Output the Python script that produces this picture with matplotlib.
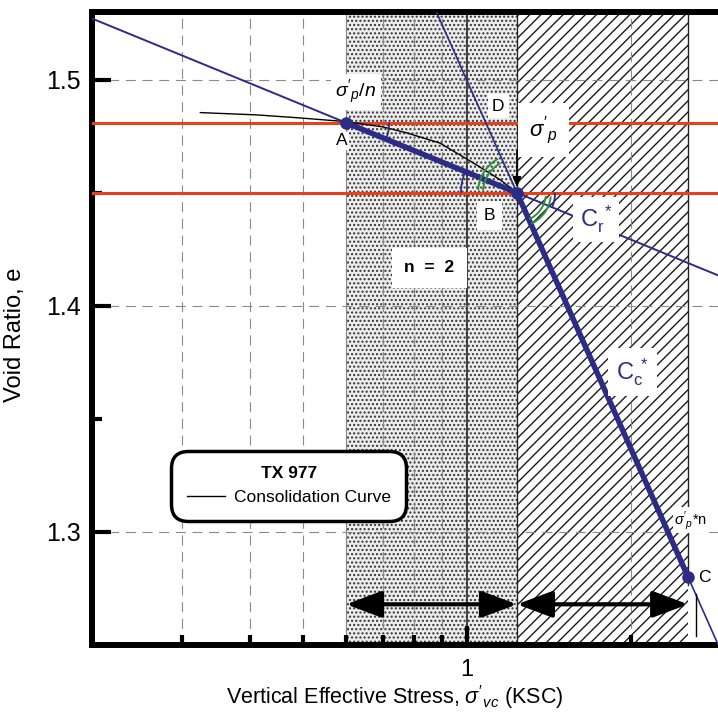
import numpy as np
import matplotlib
matplotlib.use("Agg")
import matplotlib.pyplot as plt
import matplotlib.transforms as mtransforms
from matplotlib.patches import Arc, Rectangle
from matplotlib.lines import Line2D

plt.rcParams["font.family"] = ["Liberation Sans", "DejaVu Sans"]
plt.rcParams["mathtext.fontset"] = "custom"
plt.rcParams["mathtext.rm"] = "Liberation Sans"
plt.rcParams["mathtext.it"] = "Liberation Sans:italic"
plt.rcParams["mathtext.bf"] = "Liberation Sans:bold"
plt.rcParams["hatch.linewidth"] = 1.0

# --- values ---
sig_A = 0.60         # sigma'p / n (KSC)
sig_p = 1.235        # preconsolidation stress sigma'p (KSC)
sig_C = 2.545        # sigma'p * n (KSC)
e_A = 1.481          # void ratio at A
e_B = 1.450          # void ratio at B
e_C = 1.280          # void ratio at C

curve_stress = [0.324, 0.41, 0.49, 0.60, 0.70, 0.776, 0.892, 1.026, 1.15, 1.235,
                1.33, 1.60, 2.00, 2.545]
curve_e = [1.4855, 1.4845, 1.4832, 1.4815, 1.4792, 1.4765, 1.4720, 1.4633,
           1.4558, 1.4500, 1.4326, 1.3892, 1.3367, 1.2800]

y_ticks = [1.3, 1.4, 1.5]
y_minor = [1.35, 1.45]
x_ticks = [1]
x_minor = [0.3, 0.4, 0.5, 0.6, 0.7, 0.8, 0.9, 2]
xlim = (0.205, 3.32)
ylim = (1.25, 1.53)
arrow_e = 1.268

BLUE = "#2c2c86"
RED = "#e8401c"
GREEN = "#2f8f3f"

Cr = (e_A - e_B) / np.log10(sig_p / sig_A)
Cc = (e_B - e_C) / np.log10(sig_C / sig_p)
sig_D = sig_p * 10 ** (-(e_A - e_B) / Cc)

fig = plt.figure(figsize=(7.18, 7.12), dpi=100)
ax = fig.add_axes([92 / 718, 67 / 712, 659 / 718, 633 / 712])
ax.set_xscale("log")
ax.set_xlim(*xlim)
ax.set_ylim(*ylim)

# shaded zones
ax.add_patch(Rectangle((sig_A, ylim[0]), sig_p - sig_A, ylim[1] - ylim[0],
                       facecolor="#ececec", edgecolor="#333333", hatch="....",
                       linewidth=0, zorder=0.5))
ax.add_patch(Rectangle((sig_p, ylim[0]), sig_C - sig_p, ylim[1] - ylim[0],
                       facecolor="white", edgecolor="#1a1a1a", hatch="///",
                       linewidth=0, zorder=0.5))
ax.axvline(sig_A, color="#888888", lw=0.8, zorder=1)
ax.axvline(sig_p, color="#222222", lw=1.0, zorder=1)
ax.axvline(sig_C, ymin=(arrow_e - ylim[0]) / (ylim[1] - ylim[0]) + 0.03,
           color="#222222", lw=1.0, zorder=1)

# grid
for xv in x_minor:
    ax.axvline(xv, color="#8a8a8a", lw=0.8, ls=(0, (9, 6)), zorder=1.2)
ax.axvline(1, color="#333333", lw=1.3, zorder=1.2)
for yv in y_ticks:
    ax.axhline(yv, color="#8a8a8a", lw=0.8, ls=(0, (9, 6)), zorder=1.2)

# red horizontal reference lines
ax.axhline(e_A, color=RED, lw=2.2, zorder=3)
ax.axhline(e_B, color=RED, lw=2.2, zorder=3)

# construction lines
xs = np.array(xlim)
ax.plot(xs, e_B - Cr * np.log10(xs / sig_p), color=BLUE, lw=1.4, zorder=4)
ax.plot(xs, e_B - Cc * np.log10(xs / sig_p), color=BLUE, lw=1.2, zorder=4)

# consolidation curve
ax.plot(curve_stress, curve_e, color="black", lw=1.0, zorder=3.5)

# thick segments A-B and B-C
ax.plot([sig_A, sig_p], [e_A, e_B], color=BLUE, lw=4.0, zorder=4.5,
        solid_capstyle="round")
ax.plot([sig_p, sig_C], [e_B, e_C], color=BLUE, lw=4.0, zorder=4.5,
        solid_capstyle="round")
ax.plot([sig_A, sig_p, sig_C], [e_A, e_B, e_C], "o", color=BLUE, ms=8, zorder=5)


# angle marks
def disp_angle(p0, p1):
    a = ax.transData.transform(p0)
    b = ax.transData.transform(p1)
    return np.degrees(np.arctan2(b[1] - a[1], b[0] - a[0]))


def angle_arc(pt, r_px, a1, a2, color, lw):
    tr = fig.dpi_scale_trans + mtransforms.ScaledTranslation(pt[0], pt[1], ax.transData)
    d = 2 * r_px / fig.dpi
    ax.add_patch(Arc((0, 0), d, d, theta1=a1, theta2=a2, transform=tr,
                     color=color, lw=lw, zorder=5.5))


ang_cr = disp_angle((sig_A, e_A), (sig_p, e_B))
ang_cc = disp_angle((sig_p, e_B), (sig_C, e_C))
angle_arc((sig_A, e_A), 43, ang_cr, 0, BLUE, 1.3)
angle_arc((sig_p, e_B), 56, 180 + ang_cr, 180, BLUE, 1.3)
angle_arc((sig_p, e_B), 38, ang_cr, 0, BLUE, 1.3)
for r in (34, 39):
    angle_arc((sig_p, e_B), r, 180 + ang_cc + 5, 176, GREEN, 1.4)
for r in (29, 34):
    angle_arc((sig_p, e_B), r, ang_cc + 1, -6, GREEN, 1.4)

# labels
ax.annotate(r"$\sigma'_p/n$", (sig_A, e_A), xytext=(7, 22), textcoords="offset points",
            ha="center", va="center", fontsize=14,
            bbox=dict(facecolor="white", edgecolor="none", pad=3), zorder=6)
ax.annotate("A", (sig_A, e_A), xytext=(-3, -13), textcoords="offset points",
            ha="center", va="center", fontsize=12.5,
            bbox=dict(facecolor="white", edgecolor="none", pad=1), zorder=6)
ax.annotate("D", (sig_D, e_A), xytext=(9, 12), textcoords="offset points",
            ha="center", va="center", fontsize=12.5,
            bbox=dict(facecolor="white", edgecolor="none", pad=3), zorder=6)
ax.annotate(r"$\sigma'_p$", (sig_p, e_B), xytext=(19, 45), textcoords="offset points",
            ha="center", va="center", fontsize=16,
            bbox=dict(facecolor="white", edgecolor="none", pad=8), zorder=6)
ax.annotate("", (sig_p, e_B), xytext=(0, 30), textcoords="offset points",
            arrowprops=dict(arrowstyle="-|>,head_length=0.6,head_width=0.25",
                            color="black", lw=1.2, shrinkA=0, shrinkB=4), zorder=6)
ax.annotate("B", (sig_p, e_B), xytext=(-20, -16), textcoords="offset points",
            ha="center", va="center", fontsize=12.5,
            bbox=dict(facecolor="white", edgecolor="none", pad=5), zorder=6)
ax.annotate(r"$\mathregular{C_r^{\ *}}$", (sig_p, e_B), xytext=(57, -19), textcoords="offset points",
            ha="center", va="center", fontsize=17, color=BLUE,
            bbox=dict(facecolor="white", edgecolor="none", pad=5), zorder=6)
ax.annotate(r"n  =  2", (sig_p, e_B), xytext=(-63, -54), textcoords="offset points",
            ha="center", va="center", fontsize=12.5, fontweight="bold",
            bbox=dict(facecolor="white", edgecolor="none", pad=9), zorder=6)
ax.annotate(r"$\mathregular{C_c^{\ *}}$", (sig_p, e_B), xytext=(83, -129), textcoords="offset points",
            ha="center", va="center", fontsize=17, color=BLUE,
            bbox=dict(facecolor="white", edgecolor="none", pad=6), zorder=6)
ax.annotate(r"$\sigma'_p$*n", (sig_C, e_C), xytext=(2, 41), textcoords="offset points",
            ha="center", va="center", fontsize=10.5,
            bbox=dict(facecolor="white", edgecolor="none", pad=1), zorder=6)
ax.annotate("C", (sig_C, e_C), xytext=(12, 0), textcoords="offset points",
            ha="center", va="center", fontsize=12.5, zorder=6)

# range arrows
arr = dict(arrowstyle="<|-|>,head_length=1.2,head_width=0.45", color="black",
           lw=3, shrinkA=0, shrinkB=0, mutation_scale=18)
ax.annotate("", (sig_p, arrow_e), xytext=(sig_A, arrow_e), arrowprops=arr, zorder=6)
ax.annotate("", (sig_C, arrow_e), xytext=(sig_p, arrow_e), arrowprops=arr, zorder=6)
off = mtransforms.offset_copy(ax.transData, fig=fig, x=8, y=0, units="dots")
ax.plot([sig_C, sig_C], [1.2725, 1.254], color="black", lw=1.0, transform=off, zorder=6)

# legend
leg = ax.legend([Line2D([], [], color="black", lw=1.0)], ["Consolidation Curve"],
                title="TX 977", loc="upper left", bbox_to_anchor=(0.112, 0.315),
                fontsize=12.5, title_fontproperties={"weight": "bold", "size": 12.5},
                handlelength=2.2, handletextpad=0.5, borderpad=0.7,
                fancybox=True, framealpha=1, edgecolor="black")
leg.get_frame().set_linewidth(2.5)
leg.get_frame().set_boxstyle("round,pad=0.2,rounding_size=1.0")
leg.set_zorder(7)

# axes styling
for s in ax.spines.values():
    s.set_linewidth(4.3)
ax.set_yticks(y_ticks)
ax.set_yticks(y_minor, minor=True)
ax.set_yticklabels([f"{v:.1f}" for v in y_ticks])
ax.set_xticks(x_ticks)
ax.set_xticks(x_minor, minor=True)
ax.set_xticklabels([str(v) for v in x_ticks])
ax.xaxis.set_minor_formatter(plt.NullFormatter())
ax.tick_params(which="major", direction="in", length=14, width=3, labelsize=18)
ax.tick_params(axis="y", which="major", pad=8)
ax.tick_params(axis="x", which="major", pad=10, labelsize=17)
ax.tick_params(which="minor", direction="in", length=7, width=3)

ax.set_ylabel("Void Ratio, e", fontsize=17)
ax.yaxis.set_label_coords(-0.1, 0.49)
ax.set_xlabel(r"Vertical Effective Stress, $\sigma'_{vc}$ (KSC)", fontsize=15.5, va="center")
ax.xaxis.set_label_coords(0.46, -0.082)

fig.savefig("out.png", dpi=100, facecolor="white")
